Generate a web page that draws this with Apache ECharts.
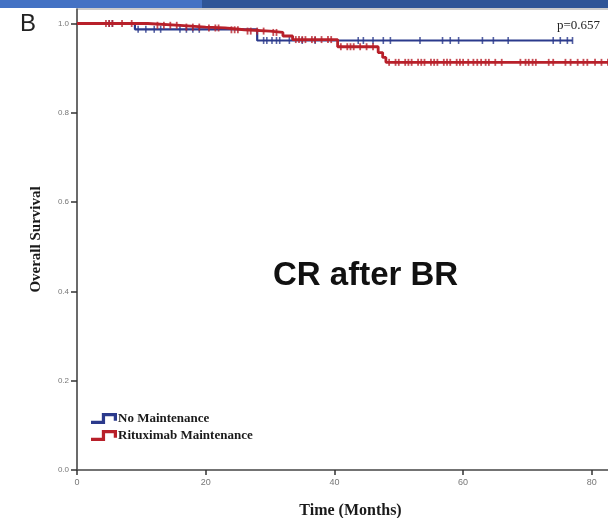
<!DOCTYPE html>
<html>
<head>
<meta charset="utf-8">
<script src="https://cdn.jsdelivr.net/npm/echarts@6/dist/echarts.min.js"></script>
<style>html,body{margin:0;padding:0;background:#fff}#c{width:608px;height:518px}</style>
</head>
<body>
<div id="c"></div>
<script>
// ---- data ----
var seriesNames = ['No Maintenance', 'Rituximab Maintenance'];
var xTicks = [0, 20, 40, 60, 80];
var yTicks = [0, 0.2, 0.4, 0.6, 0.8, 1.0];
// Kaplan-Meier steps (time in months, survival after that time)
var blueTimes = [0, 9, 28, 77];
var blueSurv  = [1.0, 0.987, 0.962, 0.962];
var redTimes = [0, 11, 16, 20, 23, 26, 30, 32, 33.5, 40.5, 46.8, 47.5, 48, 85];
var redSurv  = [1.0, 0.996, 0.992, 0.99, 0.986, 0.983, 0.98, 0.972, 0.964, 0.948, 0.935, 0.924, 0.913, 0.913];
// censored observations (months)
var blueCensor = [5, 5.5, 9.5, 10.7, 12, 13, 16, 17, 18, 19, 29, 29.5, 30.3, 31, 31.5, 33, 35, 37,
  43.7, 44.5, 46, 47.6, 48.7, 53.3, 56.8, 58, 59.3, 63, 64.7, 67, 74, 75.1, 76.2, 77];
var redCensor = [4.5, 5, 5.5, 7, 8.5, 12.5, 13.5, 14.5, 15.5, 17, 18, 19, 20.5, 21.5, 22, 24, 24.5, 25,
  26.5, 27, 28, 29, 30.5, 31, 34, 34.5, 35, 35.5, 36.5, 37, 38, 39, 39.5, 41, 42, 42.5, 43, 44, 45, 46,
  48.5, 49.5, 50, 51, 51.5, 52, 53, 53.5, 54, 55, 55.5, 56, 57, 57.5, 58, 59, 59.5, 60, 60.8, 61.6, 62.2,
  62.8, 63.5, 64, 65, 66, 68.9, 69.7, 70.2, 70.8, 71.3, 73.3, 74, 75.9, 76.7, 77.8, 78.7, 79.3, 80.5, 81.5, 82.5];
var pText = 'p=0.657';
var panelLabel = 'B';
var centerText = 'CR after BR';

// ---- helpers ----
function pairs(t, s) { return t.map(function (v, i) { return [v, s[i]]; }); }
function survAt(t, times, surv) {
  var v = surv[0];
  for (var i = 0; i < times.length; i++) { if (times[i] <= t) v = surv[i]; }
  return v;
}
function censorPts(c, times, surv) { return c.map(function (t) { return [t, survAt(t, times, surv)]; }); }

var BLUE = '#2B3A8C', RED = '#B8202A';
var stepIcon = 'path://M0,7 L10,7 L10,0 L24,0 L24,7 L21,7 L21,3 L13,3 L13,10 L0,10 Z';

var chart = echarts.init(document.getElementById('c'), null, {renderer: 'canvas'});
chart.setOption({
  animation: false,
  backgroundColor: '#fff',
  grid: {left: 77, top: 9, width: 547, height: 461, outerBoundsMode: 'none', show: true,
    borderColor: '#9a9a9a', borderWidth: 1.2, containLabel: false},
  legend: {
    orient: 'vertical', left: 86, top: 407, itemWidth: 26, itemHeight: 11, itemGap: 4,
    data: [{name: seriesNames[0], icon: stepIcon}, {name: seriesNames[1], icon: stepIcon}],
    textStyle: {fontFamily: 'Liberation Serif', fontWeight: 'bold', fontSize: 13, color: '#1a1a1a', padding: [0, 0, 0, -4]}
  },
  xAxis: {
    type: 'value', min: 0, max: 85,
    name: 'Time (Months)', nameLocation: 'middle', nameGap: 33,
    nameTextStyle: {fontFamily: 'Liberation Serif', fontWeight: 'bold', fontSize: 16, color: '#1a1a1a'},
    axisLine: {show: true, onZero: false, lineStyle: {color: '#555', width: 1.6}},
    axisTick: {show: true, length: 5, customValues: xTicks, lineStyle: {color: '#333', width: 1.5}},
    axisLabel: {customValues: xTicks, margin: 8, fontFamily: 'Liberation Sans', fontSize: 9, color: '#777'},
    splitLine: {show: false}
  },
  yAxis: {
    type: 'value', min: 0, max: 1.0325,
    name: 'Overall Survival', nameLocation: 'middle', nameGap: 33,
    nameTextStyle: {fontFamily: 'Liberation Serif', fontWeight: 'bold', fontSize: 15, color: '#1a1a1a'},
    axisLine: {show: true, onZero: false, lineStyle: {color: '#555', width: 1.6}},
    axisTick: {show: true, length: 6, customValues: yTicks, lineStyle: {color: '#333', width: 1.5}},
    axisLabel: {customValues: yTicks, margin: 8, fontFamily: 'Liberation Sans', fontSize: 8, color: '#777',
      formatter: function (v) { return v.toFixed(1); }},
    splitLine: {show: false}
  },
  series: [
    {name: seriesNames[0], type: 'line', step: 'end', data: pairs(blueTimes, blueSurv), symbol: 'none',
      color: BLUE, lineStyle: {color: BLUE, width: 2.2}, z: 2},
    {name: seriesNames[0] + ' censored', type: 'scatter', data: censorPts(blueCensor, blueTimes, blueSurv),
      symbol: 'rect', symbolSize: [1.6, 7], itemStyle: {color: BLUE}, z: 2},
    {name: seriesNames[1], type: 'line', step: 'end', data: pairs(redTimes, redSurv), symbol: 'none',
      color: RED, lineStyle: {color: RED, width: 2.8}, z: 3},
    {name: seriesNames[1] + ' censored', type: 'scatter', data: censorPts(redCensor, redTimes, redSurv),
      symbol: 'rect', symbolSize: [1.8, 7], itemStyle: {color: RED}, z: 3}
  ],
  graphic: [
    {type: 'rect', left: 0, top: 0, shape: {width: 202, height: 8}, style: {fill: '#4472C4'}, z: 10},
    {type: 'rect', left: 202, top: 0, shape: {width: 406, height: 8}, style: {fill: '#2F5597'}, z: 10},
    {type: 'text', left: 20, top: 12, style: {text: panelLabel, fontFamily: 'Liberation Sans', fontSize: 24, fill: '#222'}, z: 10},
    {type: 'text', left: 557, top: 19, style: {text: pText, fontFamily: 'Liberation Serif', fontSize: 13, fill: '#222'}, z: 10},
    {type: 'text', left: 273, top: 259, style: {text: centerText, fontFamily: 'Liberation Sans', fontWeight: 'bold', fontSize: 33, fill: '#111'}, z: 10}
  ]
});
</script>
</body>
</html>
